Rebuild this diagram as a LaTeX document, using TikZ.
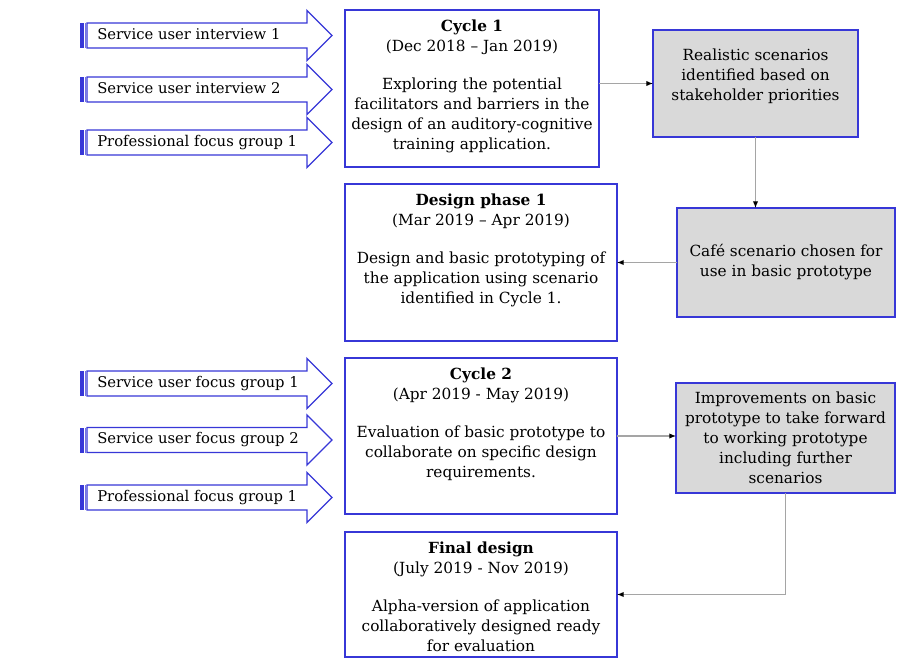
\documentclass[tikz,border=0pt]{standalone}
\usepackage{fontspec}
\setmainfont{DejaVu Serif}
\usetikzlibrary{positioning,arrows.meta}

\definecolor{frameblue}{RGB}{55,55,215}
\definecolor{linegrey}{RGB}{165,165,165}
\definecolor{boxgrey}{RGB}{217,217,217}

% striped input arrow: name, y centre, text
\newcommand{\inarrow}[3]{%
    \draw[inshape] (87,#2-12.5) -- (307,#2-12.5) -- (307,#2-25) -- (332,#2)
        -- (307,#2+25) -- (307,#2+12.5) -- (87,#2+12.5) -- cycle;
    \fill[frameblue] (80,#2-12.5) rectangle (83.5,#2+12.5);
    \fill[frameblue!70] (85,#2-12.5) rectangle (86.2,#2+12.5);
    \node[inlabel] (#1) at (97,#2) {#3};
}

\begin{document}
\begin{tikzpicture}[
        x=0.75pt, y=-0.75pt,
        node distance=12.75pt,
        font=\fontsize{11.5}{15}\selectfont,
        inshape/.style={draw=frameblue, line width=1pt, fill=white},
        inlabel/.style={anchor=west, inner sep=0pt, text height=8pt, text depth=2.5pt,
            font=\fontsize{11.1}{15}\selectfont},
        phase/.style={
            draw=frameblue,
            line width=1pt,
            rectangle,
            inner sep=0pt,
            outer sep=0pt,
            minimum width=204pt
        },
        phasetext/.style={align=center, inner sep=0pt, below=7pt of #1},
        result/.style={
            draw=frameblue,
            line width=0.8pt,
            fill=boxgrey,
            rectangle,
            align=center,
            inner sep=0pt,
            outer sep=0pt
        },
        arrow/.style={-{Latex[length=5pt,width=4pt,black]}, draw=linegrey, line width=0.8pt}
    ]
    \useasboundingbox (0,0) rectangle (899,663);

    % Input arrows, cycle 1
    \inarrow{sui1}{35.5}{Service user interview 1}
    \inarrow{sui2}{89.5}{Service user interview 2}
    \inarrow{pfg1}{142.5}{Professional focus group 1}

    % Input arrows, cycle 2
    \inarrow{sufg1}{383.5}{Service user focus group 1}
    \inarrow{sufg2}{440}{Service user focus group 2}
    \inarrow{pfg2}{497.5}{Professional focus group 1}

    % Phase boxes
    \node[phase, minimum width=190.5pt, minimum height=117.75pt] (c1) at (472,88.5) {};
    \node[phase, minimum height=117.75pt, below=of c1.south west, anchor=north west] (d1) {};
    \node[phase, minimum height=117pt] (c2) [below=of d1] {};
    \node[phase, minimum height=93.75pt] (fd) [below=13.5pt of c2] {};

    \node[phasetext=c1.north] (c1txt) {%
    \textbf{Cycle 1}\\
    (Dec 2018 -- Jan 2019)\\[14pt]
    Exploring the potential\\
    facilitators and barriers in the\\
    design of an auditory-cognitive\\
    training application.
    };

    \node[phasetext=d1.north] (d1txt) {%
    \textbf{Design phase 1}\\
    (Mar 2019 -- Apr 2019)\\[14pt]
    Design and basic prototyping of\\
    the application using scenario\\
    identified in Cycle 1.
    };

    \node[phasetext=c2.north] (c2txt) {%
    \textbf{Cycle 2}\\
    (Apr 2019 - May 2019)\\[14pt]
    Evaluation of basic prototype to\\
    collaborate on specific design\\
    requirements.
    };

    \node[phasetext=fd.north] (fdtxt) {%
    \textbf{Final design}\\
    (July 2019 - Nov 2019)\\[14pt]
    Alpha-version of application\\
    collaboratively designed ready\\
    for evaluation
    };

    % Outcome boxes
    \node[result, minimum width=153.75pt, minimum height=80.25pt] (real) at (755.5,83.5) {%
    Realistic scenarios\\
    identified based on\\
    stakeholder priorities\\[-2pt]
    };

    \node[result, minimum width=163.5pt, minimum height=81.75pt] (cafe) at (786,262.5) {%
    Café scenario chosen for\\
    use in basic prototype
    };

    \node[result, minimum width=164.25pt, minimum height=82.5pt] (imp) at (785.5,438) {%
    Improvements on basic\\
    prototype to take forward\\
    to working prototype\\
    including further\\
    scenarios
    };

    % Arrows
    \draw[arrow] (c1.east |- real.west) -- (real.west);
    \draw[arrow] (real.south) -- (real.south |- cafe.north);
    \draw[arrow] (cafe.west) -- (cafe.west -| d1.east);
    \draw[arrow] (c2.east) -- (c2.east -| imp.west);
    \draw[arrow] (imp.south) |- (fd.east);

\end{tikzpicture}
\end{document}
